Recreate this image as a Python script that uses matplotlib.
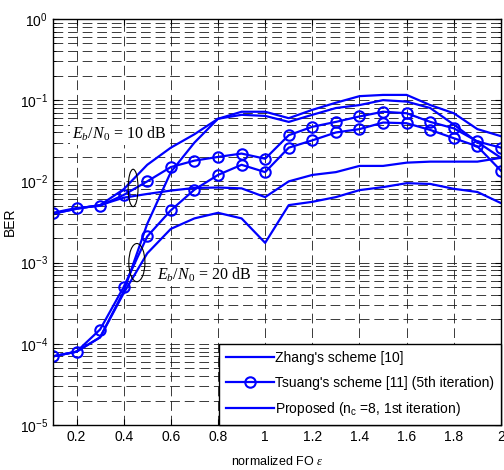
import numpy as np
import matplotlib
matplotlib.use('Agg')
import matplotlib.pyplot as plt
from matplotlib.patches import Ellipse
from matplotlib.ticker import FuncFormatter, LogLocator, FixedLocator

plt.rcParams['font.family'] = ['Liberation Sans', 'DejaVu Sans']
plt.rcParams['mathtext.fontset'] = 'custom'
plt.rcParams['mathtext.rm'] = 'Liberation Serif'
plt.rcParams['mathtext.it'] = 'Liberation Serif:italic'
plt.rcParams['mathtext.sf'] = 'Liberation Sans'
plt.rcParams['lines.scale_dashes'] = False

# normalized frequency offset
fo = [0.1, 0.2, 0.3, 0.4, 0.5, 0.6, 0.7, 0.8, 0.9, 1.0,
      1.1, 1.2, 1.3, 1.4, 1.5, 1.6, 1.7, 1.8, 1.9, 2.0]

# BER (Eb/N0 = 10 dB and 20 dB)
zhang_10 = [4.0e-3, 4.6e-3, 5.1e-3, 8.0e-3, 1.6e-2, 2.6e-2, 3.8e-2, 5.9e-2, 7.2e-2, 7.2e-2,
            6.0e-2, 7.6e-2, 9.3e-2, 0.112, 0.116, 0.116, 8.7e-2, 6.9e-2, 4.4e-2, 3.6e-2]
zhang_20 = [7.0e-5, 8.0e-5, 1.2e-4, 4.4e-4, 3.0e-3, 1.3e-2, 3.0e-2, 5.9e-2, 6.6e-2, 6.4e-2,
            5.4e-2, 6.6e-2, 8.0e-2, 8.7e-2, 1.0e-1, 9.6e-2, 8.0e-2, 5.0e-2, 3.05e-2, 1.95e-2]
tsuang_10 = [4.1e-3, 4.7e-3, 5.0e-3, 6.8e-3, 1.0e-2, 1.5e-2, 1.8e-2, 2.0e-2, 2.2e-2, 1.9e-2,
             3.7e-2, 4.7e-2, 5.4e-2, 6.3e-2, 7.2e-2, 6.9e-2, 5.4e-2, 4.5e-2, 3.1e-2, 2.6e-2]
tsuang_20 = [7.0e-5, 8.0e-5, 1.5e-4, 5.0e-4, 2.1e-3, 4.4e-3, 7.9e-3, 1.2e-2, 1.6e-2, 1.3e-2,
             2.6e-2, 3.2e-2, 4.0e-2, 4.4e-2, 5.3e-2, 5.2e-2, 4.3e-2, 3.4e-2, 2.7e-2, 1.35e-2]
prop_10 = [4.0e-3, 4.6e-3, 5.1e-3, 6.3e-3, 7.0e-3, 7.7e-3, 8.3e-3, 8.4e-3, 8.2e-3, 6.4e-3,
           1.0e-2, 1.2e-2, 1.3e-2, 1.55e-2, 1.55e-2, 1.7e-2, 1.75e-2, 1.75e-2, 1.75e-2, 1.95e-2]
prop_20 = [7.0e-5, 8.0e-5, 1.2e-4, 4.2e-4, 1.3e-3, 2.6e-3, 3.5e-3, 4.1e-3, 3.5e-3, 1.75e-3,
           5.1e-3, 5.6e-3, 6.4e-3, 7.8e-3, 8.5e-3, 9.5e-3, 9.3e-3, 8.1e-3, 7.4e-3, 5.4e-3]

legend_labels = ["Zhang's scheme [10]",
                 "Tsuang's scheme [11] (5th iteration)",
                 r"Proposed (n$_\mathsf{c}$ =8, 1st iteration)"]

blue = '#0000ff'

fig = plt.figure(figsize=(5.04, 4.70), dpi=100)
ax = fig.add_axes([0.105, 0.0957, 0.889, 0.864])

# curves
l1, = ax.semilogy(fo, zhang_10, color=blue, lw=1.6)
ax.semilogy(fo, zhang_20, color=blue, lw=1.6)
l2, = ax.semilogy(fo, tsuang_10, color=blue, lw=1.6, marker='o', ms=7.5, mfc='none', mew=1.5)
ax.semilogy(fo, tsuang_20, color=blue, lw=1.6, marker='o', ms=7.5, mfc='none', mew=1.5)
l3, = ax.semilogy(fo, prop_10, color=blue, lw=1.6)
ax.semilogy(fo, prop_20, color=blue, lw=1.6)

# axes limits and ticks
ax.set_xlim(0.1, 2.0)
ax.set_ylim(1e-5, 1)
ax.xaxis.set_major_locator(FixedLocator([0.2, 0.4, 0.6, 0.8, 1.0, 1.2, 1.4, 1.6, 1.8, 2.0]))
ax.xaxis.set_major_formatter(FuncFormatter(lambda v, p: '%g' % v))
ax.yaxis.set_major_locator(LogLocator(base=10, numticks=10))
ax.yaxis.set_minor_locator(LogLocator(base=10, subs=np.arange(2, 10), numticks=10))
ax.yaxis.set_major_formatter(FuncFormatter(lambda v, p: r'$\mathsf{10^{%d}}$' % round(np.log10(v))))
ax.yaxis.set_minor_formatter(FuncFormatter(lambda v, p: ''))
ax.tick_params(which='both', direction='in', top=True, right=True, labelsize=10)
ax.tick_params(which='major', length=4)
ax.tick_params(which='minor', length=2.5)

# matlab style dashed grid
ax.grid(True, which='both', color='0.1', lw=0.6, linestyle=(0, (7, 3.5)))
for sp in ax.spines.values():
    sp.set_linewidth(1.0)

ax.set_xlabel(r'normalized FO $\varepsilon$', fontsize=9, labelpad=8)
ax.set_ylabel('BER', fontsize=10, labelpad=2)

# annotations with ellipses around the curve groups
to_axes = ax.transData + ax.transAxes.inverted()
for (xc, yc), w, h in [((0.44, 8.3e-3), 0.022, 0.092), ((0.456, 1.0e-3), 0.036, 0.094)]:
    cx, cy = to_axes.transform((xc, yc))
    ax.add_patch(Ellipse((cx, cy), w, h, transform=ax.transAxes, fill=False, ec='k', lw=0.8, zorder=4))
box = dict(facecolor='white', edgecolor='none', pad=1.5)
ax.text(0.18, 3.9e-2, r'$E_b/N_0$ = 10 dB', fontsize=11.5, family='Liberation Serif',
        va='center', bbox=box, zorder=3)
ax.text(0.54, 7.0e-4, r'$E_b/N_0$ = 20 dB', fontsize=11.5, family='Liberation Serif',
        va='center', bbox=box, zorder=3)

leg = ax.legend([l1, l2, l3], legend_labels, loc='lower right', fontsize=10,
                fancybox=False, edgecolor='k', framealpha=1, borderaxespad=0,
                handlelength=3.4, handletextpad=0.1, labelspacing=0.75, borderpad=0.5)
leg.get_frame().set_linewidth(1.0)
leg.set_zorder(5)

fig.savefig('out.png', dpi=100)
